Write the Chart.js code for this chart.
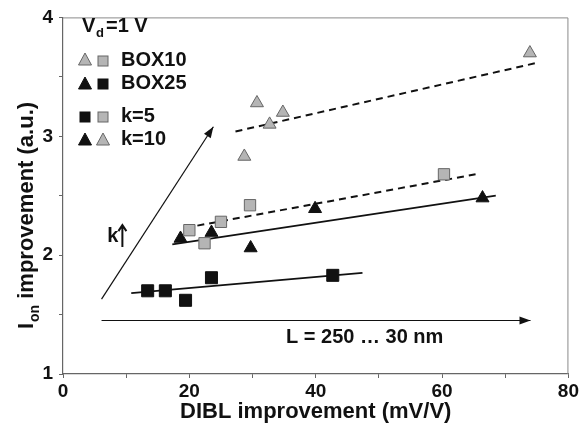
<!DOCTYPE html>
<html>
<head>
<meta charset="utf-8">
<script src="https://cdn.jsdelivr.net/npm/chart.js@4.4.1/dist/chart.umd.min.js"></script>
<style>
  html, body { margin: 0; padding: 0; background: #fff; }
  #wrap { width: 581px; height: 437px; }
</style>
</head>
<body>
<div id="wrap"><canvas id="ionChart" width="581" height="437"></canvas></div>
<script>
// measured points (DIBL improvement vs Ion improvement)
const box10k10X = [28.7, 30.7, 32.7, 34.8, 73.9];
const box10k10Y = [2.83, 3.28, 3.10, 3.20, 3.70];
const box10k5X = [20.0, 22.4, 25.0, 29.6, 60.3];
const box10k5Y = [2.21, 2.10, 2.28, 2.42, 2.68];
const box25k10X = [18.6, 23.5, 29.7, 39.9, 66.4];
const box25k10Y = [2.14, 2.19, 2.06, 2.39, 2.48];
const box25k5X = [13.4, 16.2, 19.4, 23.5, 42.7];
const box25k5Y = [1.70, 1.70, 1.62, 1.81, 1.83];

// trend lines (start, end)
const fitTopX = [27.3, 75.2];
const fitTopY = [3.04, 3.62];
const fitMidDashX = [19.4, 65.3];
const fitMidDashY = [2.23, 2.68];
const fitMidX = [17.3, 68.5];
const fitMidY = [2.09, 2.50];
const fitLowX = [10.8, 47.4];
const fitLowY = [1.68, 1.85];

// arrows
const kArrowX = [6.1, 23.8];
const kArrowY = [1.63, 3.08];
const lArrowX = [6.1, 74.0];
const lArrowY = [1.45, 1.45];

// axis ticks
const xTicks = [0, 20, 40, 60, 80];
const yTicks = [1, 2, 3, 4];

const FONT = '"Liberation Sans", Arial, sans-serif';
const GRAY_FILL = '#b5b5b5';
const GRAY_EDGE = '#666';
const BLACK = '#111';

function pts(xs, ys){
    return xs.map((x, i) => ({x: x, y: ys[i]}));
}

function markerSet(label, xs, ys, shape, fill, edge, r){
    return {
        type: 'scatter',
        label: label,
        data: pts(xs, ys),
        pointStyle: shape,
        pointRadius: r,
        pointHoverRadius: r,
        backgroundColor: fill,
        borderColor: edge,
        pointBorderWidth: 1,
        showLine: false
    };
}

function lineSet(label, xs, ys, dash, width){
    return {
        type: 'line',
        label: label,
        data: pts(xs, ys),
        borderColor: BLACK,
        borderWidth: width,
        borderDash: dash,
        pointRadius: 0,
        fill: false,
        tension: 0
    };
}

// frame + arrowheads + annotations + custom legend
const decorPlugin = {
    id: 'decor',
    afterDatasetsDraw(chart){
        const ctx = chart.ctx;
        const a = chart.chartArea;
        const xs = chart.scales.x, ys = chart.scales.y;

        ctx.save();
        // light frame on top and right
        ctx.strokeStyle = '#8a8a8a';
        ctx.lineWidth = 1;
        ctx.beginPath();
        ctx.moveTo(a.left, a.top + 0.5);
        ctx.lineTo(a.right - 0.5, a.top + 0.5);
        ctx.lineTo(a.right - 0.5, a.bottom);
        ctx.stroke();

        // arrowheads
        function head(xArr, yArr){
            const x0 = xs.getPixelForValue(xArr[0]), y0 = ys.getPixelForValue(yArr[0]);
            const x1 = xs.getPixelForValue(xArr[1]), y1 = ys.getPixelForValue(yArr[1]);
            const ang = Math.atan2(y1 - y0, x1 - x0);
            const len = 11, wid = 4;
            ctx.fillStyle = BLACK;
            ctx.beginPath();
            ctx.moveTo(x1, y1);
            ctx.lineTo(x1 - len * Math.cos(ang) + wid * Math.sin(ang), y1 - len * Math.sin(ang) - wid * Math.cos(ang));
            ctx.lineTo(x1 - len * Math.cos(ang) - wid * Math.sin(ang), y1 - len * Math.sin(ang) + wid * Math.cos(ang));
            ctx.closePath();
            ctx.fill();
        }
        head(kArrowX, kArrowY);
        head(lArrowX, lArrowY);

        // annotations
        ctx.fillStyle = BLACK;
        ctx.font = 'bold 20px ' + FONT;
        ctx.textBaseline = 'middle';
        ctx.textAlign = 'left';
        ctx.fillText('k', xs.getPixelForValue(7.0), ys.getPixelForValue(2.16));
        // taller up arrow next to k
        const ax = xs.getPixelForValue(9.4), ay = ys.getPixelForValue(2.16);
        ctx.strokeStyle = BLACK;
        ctx.lineWidth = 2;
        ctx.beginPath();
        ctx.moveTo(ax, ay + 11);
        ctx.lineTo(ax, ay - 10);
        ctx.moveTo(ax - 4, ay - 5);
        ctx.lineTo(ax, ay - 11);
        ctx.lineTo(ax + 4, ay - 5);
        ctx.stroke();
        ctx.fillText('L = 250 \u2026 30 nm', xs.getPixelForValue(35.3), ys.getPixelForValue(1.31));

        // legend block
        function tri(x, y, fill, edge){
            ctx.beginPath();
            ctx.moveTo(x, y - 7);
            ctx.lineTo(x + 6.5, y + 5);
            ctx.lineTo(x - 6.5, y + 5);
            ctx.closePath();
            ctx.fillStyle = fill; ctx.fill();
            ctx.strokeStyle = edge; ctx.lineWidth = 1; ctx.stroke();
        }
        function sq(x, y, fill, edge){
            ctx.fillStyle = fill;
            ctx.fillRect(x - 5, y - 5, 10, 10);
            ctx.strokeStyle = edge; ctx.lineWidth = 1;
            ctx.strokeRect(x - 5, y - 5, 10, 10);
        }
        const lx1 = 85, lx2 = 103, tx = 121;
        ctx.fillStyle = BLACK;
        ctx.font = 'bold 20px ' + FONT;
        ctx.fillText('V', 82, 26);
        ctx.font = 'bold 13px ' + FONT;
        ctx.fillText('d', 96, 33);
        ctx.font = 'bold 20px ' + FONT;
        ctx.fillText('=1 V', 106, 26);

        tri(lx1, 60, GRAY_FILL, GRAY_EDGE); sq(lx2, 61, GRAY_FILL, GRAY_EDGE);
        ctx.fillStyle = BLACK; ctx.fillText('BOX10', tx, 60);
        tri(lx1, 84, BLACK, BLACK); sq(lx2, 84, BLACK, BLACK);
        ctx.fillStyle = BLACK; ctx.fillText('BOX25', tx, 83);
        sq(lx1, 117, BLACK, BLACK); sq(lx2, 117, GRAY_FILL, GRAY_EDGE);
        ctx.fillStyle = BLACK; ctx.fillText('k=5', tx, 116);
        tri(lx1, 140, BLACK, BLACK); tri(lx2, 140, GRAY_FILL, GRAY_EDGE);
        ctx.fillStyle = BLACK; ctx.fillText('k=10', tx, 139);

        // y axis title with subscript
        ctx.translate(26, 216);
        ctx.rotate(-Math.PI / 2);
        ctx.textAlign = 'left';
        ctx.textBaseline = 'alphabetic';
        const t1 = 'I', t2 = 'on', t3 = ' improvement (a.u.)';
        ctx.font = 'bold 22px ' + FONT;
        const w1 = ctx.measureText(t1).width;
        const w3 = ctx.measureText(t3).width;
        ctx.font = 'bold 14px ' + FONT;
        const w2 = ctx.measureText(t2).width;
        let sx = -(w1 + w2 + w3) / 2;
        ctx.font = 'bold 22px ' + FONT;
        ctx.fillText(t1, sx, 7);
        ctx.font = 'bold 14px ' + FONT;
        ctx.fillText(t2, sx + w1 + 1, 13);
        ctx.font = 'bold 22px ' + FONT;
        ctx.fillText(t3, sx + w1 + w2 + 1, 7);
        ctx.restore();
    }
};

const ctx = document.getElementById('ionChart').getContext('2d');
const ionChart = new Chart(ctx, {
    data: {
        datasets: [
            markerSet('BOX10 k=10', box10k10X, box10k10Y, 'triangle', GRAY_FILL, GRAY_EDGE, 7.5),
            markerSet('BOX10 k=5', box10k5X, box10k5Y, 'rect', GRAY_FILL, GRAY_EDGE, 8),
            markerSet('BOX25 k=10', box25k10X, box25k10Y, 'triangle', BLACK, BLACK, 7.5),
            markerSet('BOX25 k=5', box25k5X, box25k5Y, 'rect', BLACK, BLACK, 8.5),
            lineSet('fit top', fitTopX, fitTopY, [7, 5], 2),
            lineSet('fit mid dash', fitMidDashX, fitMidDashY, [7, 5], 2),
            lineSet('fit mid', fitMidX, fitMidY, [], 1.8),
            lineSet('fit low', fitLowX, fitLowY, [], 1.8),
            lineSet('k arrow', kArrowX, kArrowY, [], 1.2),
            lineSet('L arrow', lArrowX, lArrowY, [], 1.2)
        ]
    },
    options: {
        responsive: false,
        animation: false,
        layout: { padding: { top: 12, right: 8, left: 0, bottom: 12 } },
        scales: {
            x: {
                type: 'linear',
                min: 0,
                max: 80,
                afterFit: function(s){ s.height = 51; },
                afterBuildTicks: function(s){
                    s.ticks = [0, 10, 20, 30, 40, 50, 60, 70, 80].map(v => ({value: v}));
                },
                ticks: {
                    autoSkip: false,
                    maxRotation: 0,
                    padding: 2,
                    color: BLACK,
                    font: { family: FONT, size: 19, weight: 'bold' },
                    callback: function(v){ return xTicks.includes(v) ? String(v) : ''; }
                },
                grid: { drawOnChartArea: false, drawTicks: true, tickLength: 4, color: '#666' },
                border: { color: '#666', width: 1.2 },
                title: {
                    display: true,
                    text: 'DIBL improvement (mV/V)',
                    color: BLACK,
                    font: { family: FONT, size: 22, weight: 'bold' },
                    padding: { top: 0, bottom: 0 }
                }
            },
            y: {
                type: 'linear',
                min: 1,
                max: 4,
                afterFit: function(s){ s.width = 63; },
                afterBuildTicks: function(s){
                    s.ticks = [1, 1.5, 2, 2.5, 3, 3.5, 4].map(v => ({value: v}));
                },
                ticks: {
                    autoSkip: false,
                    padding: 6,
                    color: BLACK,
                    font: { family: FONT, size: 19, weight: 'bold' },
                    callback: function(v){ return yTicks.includes(v) ? String(v) : ''; }
                },
                grid: { drawOnChartArea: false, drawTicks: true, tickLength: 4, color: '#666' },
                border: { color: '#666', width: 1.2 }
            }
        },
        plugins: {
            legend: { display: false },
            tooltip: { enabled: false }
        }
    },
    plugins: [decorPlugin]
});
</script>
</body>
</html>
